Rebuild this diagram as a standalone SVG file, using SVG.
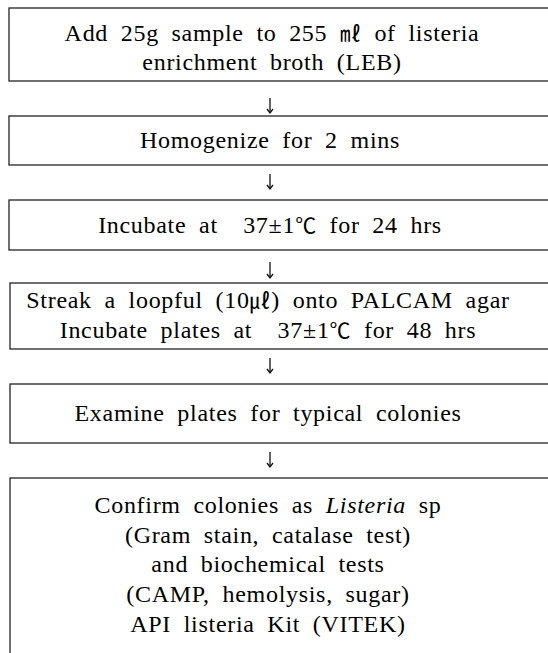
<svg xmlns="http://www.w3.org/2000/svg" width="548" height="653" viewBox="0 0 548 653">
<defs>
<style>
.box{fill:#fff;stroke:#222;stroke-width:1.3}
.t{font-family:'Liberation Serif','Times New Roman',serif;font-size:24px;fill:#000;text-anchor:middle;word-spacing:6px;letter-spacing:0.7px}
.cjk{font-family:'Noto Sans CJK KR',sans-serif;font-size:21px}
.conn{stroke:#111;stroke-width:1.3;fill:none}
</style>
<marker id="ah" markerWidth="10" markerHeight="10" viewBox="0 0 10 10" refX="8" refY="5" orient="auto" markerUnits="userSpaceOnUse">
<path d="M4,2 L8,5 L4,8" fill="none" stroke="#111" stroke-width="1.3"/>
</marker>
</defs>
<rect width="548" height="653" fill="#fff"/>
<g id="n1">
<rect class="box" x="9" y="8" width="545" height="73"/>
<text class="t" x="272" y="41">Add 25g sample to 255 <tspan class="cjk">㎖</tspan> of listeria</text>
<text class="t" x="272" y="70">enrichment broth (LEB)</text>
</g>
<g id="n2">
<rect class="box" x="9" y="116" width="545" height="49"/>
<text class="t" x="270" y="148">Homogenize for 2 mins</text>
</g>
<g id="n3">
<rect class="box" x="9" y="200" width="545" height="50"/>
<text class="t" x="270" y="233" xml:space="preserve">Incubate at  37±1<tspan class="cjk">℃</tspan> for 24 hrs</text>
</g>
<g id="n4">
<rect class="box" x="10" y="283" width="545" height="66"/>
<text class="t" x="268" y="308">Streak a loopful (10<tspan class="cjk">㎕</tspan>) onto PALCAM agar</text>
<text class="t" x="268" y="338" xml:space="preserve">Incubate plates at  37±1<tspan class="cjk">℃</tspan> for 48 hrs</text>
</g>
<g id="n5">
<rect class="box" x="10" y="384" width="545" height="59"/>
<text class="t" x="268" y="421">Examine plates for typical colonies</text>
</g>
<g id="n6">
<rect class="box" x="10" y="478" width="545" height="190"/>
<text class="t" x="268" y="513">Confirm colonies as <tspan font-style="italic">Listeria</tspan> sp</text>
<text class="t" x="268" y="543">(Gram stain, catalase test)</text>
<text class="t" x="268" y="572">and biochemical tests</text>
<text class="t" x="268" y="602">(CAMP, hemolysis, sugar)</text>
<text class="t" x="268" y="632">API listeria Kit (VITEK)</text>
</g>
<g id="connectors">
<path class="conn" d="M270,98 V113" marker-end="url(#ah)"/>
<path class="conn" d="M270,174 V189" marker-end="url(#ah)"/>
<path class="conn" d="M270,262 V278" marker-end="url(#ah)"/>
<path class="conn" d="M270,358 V373" marker-end="url(#ah)"/>
<path class="conn" d="M270,452 V467" marker-end="url(#ah)"/>
</g>
</svg>
